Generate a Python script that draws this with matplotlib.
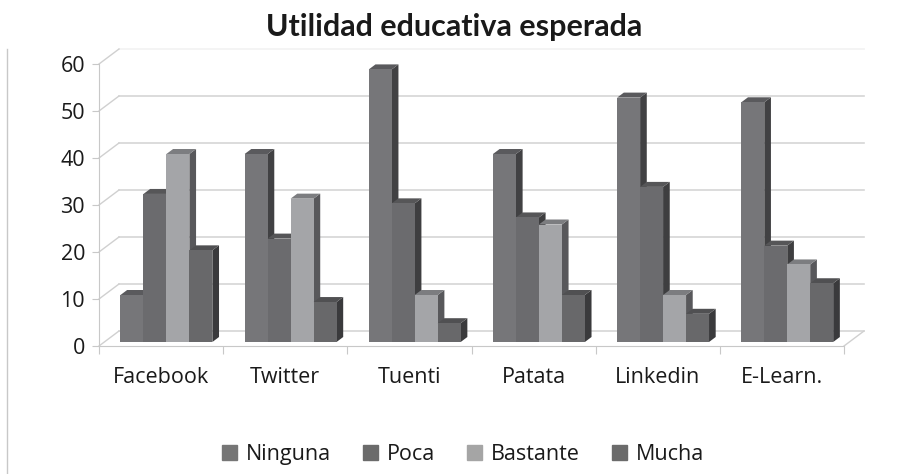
import numpy as np
import matplotlib
matplotlib.use('Agg')
import matplotlib.pyplot as plt
from matplotlib.patches import Polygon, Patch
from matplotlib.lines import Line2D

# data
categories = ['Facebook', 'Twitter', 'Tuenti', 'Patata', 'Linkedin', 'E-Learn.']
series = ['Ninguna', 'Poca', 'Bastante', 'Mucha']
ninguna = [10, 40, 58, 40, 52, 51]
poca = [31.5, 22, 29.5, 26.5, 33, 20.5]
bastante = [40, 30.5, 10, 25, 10, 16.5]
mucha = [19.5, 8.5, 4, 10, 6, 12.5]
values = [ninguna, poca, bastante, mucha]

front_col = ['#767679', '#6b6b6e', '#a4a5a8', '#68686a']
top_col = ['#5a5a5d', '#565658', '#7c7d80', '#505052']
side_col = ['#414143', '#3e3e40', '#58585b', '#3a3a3c']

plt.rcParams['font.family'] = ['Open Sans', 'DejaVu Sans']

fig = plt.figure(figsize=(9.08, 4.74), dpi=100)
ax = fig.add_axes([99/908, 128/474, 745/908, 282/474])
ax.set_xlim(0, 6)
ax.set_ylim(0, 60)

# depth of the 3d box in data units
DX = 20/(745/6.)
DY = 15/(282/60.)
f1, f2 = 4/15., 9/15.
bw = 0.185

# back wall gridlines and left wall
for v in range(0, 61, 10):
    c = '#f2f2f2' if v == 60 else '#d6d6d6'
    ax.plot([DX, 6+DX], [v+DY, v+DY], color=c, lw=1.2, clip_on=False, zorder=1)
    ax.plot([0, DX], [v, v+DY], color='#d0d0d0', lw=1.0, clip_on=False, zorder=1)
ax.plot([6, 6+DX], [0, DY], color='#d0d0d0', lw=1.0, clip_on=False, zorder=1)

# bars
z = 3
for i in range(len(categories)):
    for j in range(len(series)):
        x0 = i + 0.5 - 2*bw + j*bw + f1*DX
        x1 = x0 + bw
        b = f1*DY
        t = b + values[j][i]
        ddx = (f2-f1)*DX
        ddy = (f2-f1)*DY
        side = Polygon([(x1, b), (x1+ddx, b+ddy), (x1+ddx, t+ddy), (x1, t)],
                       closed=True, fc=side_col[j], ec='none', zorder=z, clip_on=False)
        top = Polygon([(x0, t), (x1, t), (x1+ddx, t+ddy), (x0+ddx, t+ddy)],
                      closed=True, fc=top_col[j], ec='none', zorder=z, clip_on=False)
        ax.add_patch(side)
        ax.add_patch(top)
        ax.bar(x0, values[j][i], width=bw, bottom=b, align='edge', color=front_col[j],
               zorder=z, clip_on=False)
        z += 1

# axes styling
for s in ['top', 'right']:
    ax.spines[s].set_visible(False)
ax.spines['left'].set_color('#c8c8c8')
ax.spines['bottom'].set_color('#c8c8c8')
ax.spines['left'].set_zorder(2)
ax.spines['bottom'].set_zorder(2)

ax.set_yticks(range(0, 61, 10))
ax.tick_params(axis='y', length=5, color='#c8c8c8', labelsize=15.5, pad=5, labelcolor='#1a1a1a')
ax.set_xticks(range(0, 7))
ax.set_xticklabels([])
ax.tick_params(axis='x', which='major', length=6, color='#c8c8c8')
ax.set_xticks(np.arange(6)+0.5, minor=True)
ax.set_xticklabels(categories, minor=True)
ax.tick_params(axis='x', which='minor', length=0, labelsize=15.5, pad=15, labelcolor='#1a1a1a')

fig.text(0.5, 0.943, 'Utilidad educativa esperada', ha='center', va='center',
         fontsize=22, fontweight='bold', family=['Lato', 'DejaVu Sans'], color='#1a1a1a')

handles = [Patch(color=c) for c in ['#767676', '#6b6b6b', '#a5a5a5', '#6b6b6b']]
fig.legend(handles, series, loc='center', bbox_to_anchor=(0.51, 0.042), ncol=4,
           frameon=False, fontsize=15.5, handlelength=0.7, handleheight=0.7,
           handletextpad=0.4, columnspacing=1.5, labelcolor='#1a1a1a')

fig.add_artist(Line2D([7/908, 7/908], [0, 425/474], color='#c8c8c8', lw=1.0))

fig.savefig('out.png', dpi=100)
